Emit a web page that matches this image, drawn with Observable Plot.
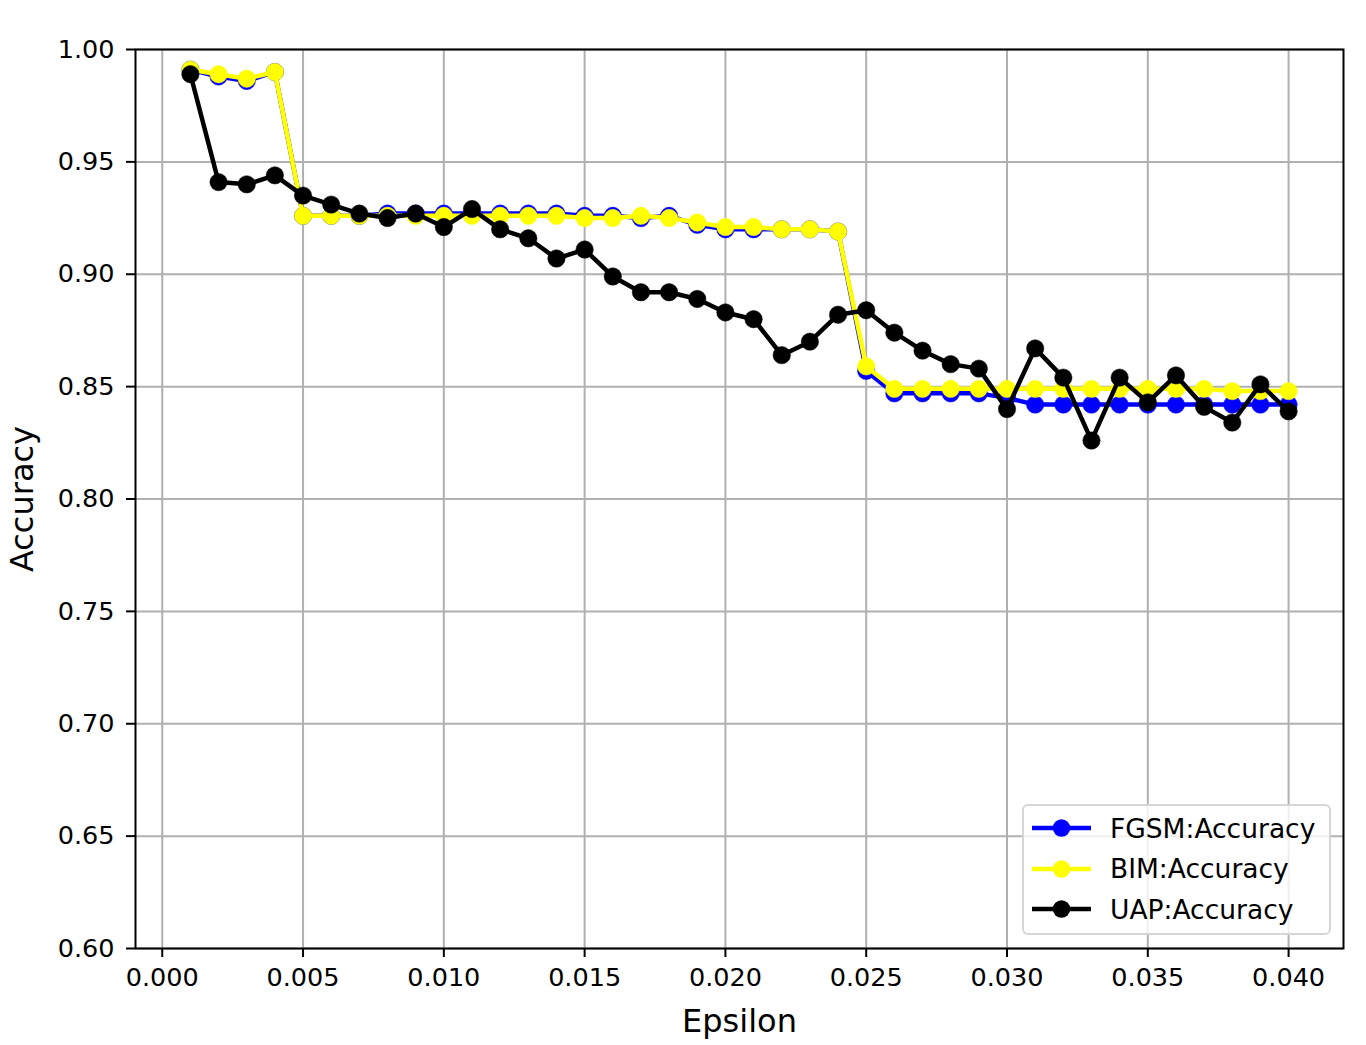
<!DOCTYPE html>
<html>
<head>
<meta charset="utf-8">
<script src="https://cdn.jsdelivr.net/npm/d3@7"></script>
<script src="https://cdn.jsdelivr.net/npm/@observablehq/plot@0.6"></script>
<style>
  html, body { margin: 0; padding: 0; background: #fff; }
  #wrap { position: relative; width: 1366px; height: 1045px; font-family: "DejaVu Sans", sans-serif; }
  #legend { position: absolute; left: 1022px; top: 804px; width: 309px; height: 131px; box-sizing: border-box;
            border: 2px solid rgba(204,204,204,0.8); border-radius: 6px; background: rgba(255,255,255,0.8); }
  .row { position: absolute; left: 8px; height: 40px; display: flex; align-items: center; }
  .row span { font-size: 26.5px; color: #000; margin-left: 18px; white-space: nowrap; }
</style>
</head>
<body>
<div id="wrap"><div id="chart"></div><div id="legend"></div></div>
<script>
// ---- data ----
const epsilon = [0.001,0.002,0.003,0.004,0.005,0.006,0.007,0.008,0.009,0.010,
                 0.011,0.012,0.013,0.014,0.015,0.016,0.017,0.018,0.019,0.020,
                 0.021,0.022,0.023,0.024,0.025,0.026,0.027,0.028,0.029,0.030,
                 0.031,0.032,0.033,0.034,0.035,0.036,0.037,0.038,0.039,0.040];
const fgsmAccuracy = [0.991,0.988,0.986,0.990,0.926,0.926,0.926,0.927,0.927,0.927,
                      0.927,0.927,0.927,0.927,0.926,0.926,0.925,0.926,0.922,0.920,
                      0.920,0.920,0.920,0.919,0.857,0.847,0.847,0.847,0.847,0.845,
                      0.842,0.842,0.842,0.842,0.842,0.842,0.842,0.842,0.842,0.842];
const bimAccuracy  = [0.991,0.989,0.987,0.990,0.926,0.926,0.926,0.926,0.926,0.926,
                      0.926,0.926,0.926,0.926,0.925,0.925,0.926,0.925,0.923,0.921,
                      0.921,0.920,0.920,0.919,0.859,0.849,0.849,0.849,0.849,0.849,
                      0.849,0.849,0.849,0.849,0.849,0.849,0.849,0.848,0.848,0.848];
const uapAccuracy  = [0.989,0.941,0.940,0.944,0.935,0.931,0.927,0.925,0.927,0.921,
                      0.929,0.920,0.916,0.907,0.911,0.899,0.892,0.892,0.889,0.883,
                      0.880,0.864,0.870,0.882,0.884,0.874,0.866,0.860,0.858,0.840,
                      0.867,0.854,0.826,0.854,0.843,0.855,0.841,0.834,0.851,0.839];
const seriesNames  = ["FGSM:Accuracy", "BIM:Accuracy", "UAP:Accuracy"];
const seriesColors = ["#0000ff", "#ffff00", "#000000"];
const seriesValues = [fgsmAccuracy, bimAccuracy, uapAccuracy];
const xTicks = [0.000,0.005,0.010,0.015,0.020,0.025,0.030,0.035,0.040];
const yTicks = [0.60,0.65,0.70,0.75,0.80,0.85,0.90,0.95,1.00];
const xLabel = "Epsilon";
const yLabel = "Accuracy";

// ---- build ----
const series = seriesNames.map((name, k) => ({
  name, color: seriesColors[k],
  rows: epsilon.map((e, i) => ({eps: e, acc: seriesValues[k][i]}))
}));

const dataMarks = [];
for (const s of series) {
  dataMarks.push(Plot.line(s.rows, {x: "eps", y: "acc", stroke: s.color, strokeWidth: 4.5}));
  dataMarks.push(Plot.dot(s.rows, {x: "eps", y: "acc", r: 8.7, fill: s.color, stroke: s.color, strokeWidth: 0.5}));
}

const chart = Plot.plot({
  width: 1366, height: 1045,
  marginLeft: 135, marginRight: 23, marginTop: 49, marginBottom: 97,
  style: {fontFamily: "DejaVu Sans", background: "#fff", color: "#000", overflow: "visible"},
  x: {domain: [-0.00095, 0.04195]},
  y: {domain: [0.6, 1.0]},
  marks: [
    Plot.gridX(xTicks, {stroke: "#b0b0b0", strokeOpacity: 1, strokeWidth: 2}),
    Plot.gridY(yTicks, {stroke: "#b0b0b0", strokeOpacity: 1, strokeWidth: 2}),
    ...dataMarks,
    Plot.frame({stroke: "#000", strokeWidth: 2}),
    Plot.axisX(xTicks, {tickFormat: d3.format(".3f"), tickSize: 9, tickPadding: 10, strokeWidth: 2,
                        fontSize: 25.5, label: null}),
    Plot.axisY(yTicks, {tickFormat: d3.format(".2f"), tickSize: 9, tickPadding: 12, strokeWidth: 2,
                        fontSize: 25.5, label: null}),
    Plot.axisX([], {label: xLabel, labelAnchor: "center", labelArrow: "none", labelOffset: 83, fontSize: 32, tickSize: 0}),
    Plot.axisY([], {label: yLabel, labelAnchor: "center", labelArrow: "none", labelOffset: 125, fontSize: 32, tickSize: 0})
  ]
});
document.getElementById("chart").appendChild(chart);

// ---- legend ----
const legend = document.getElementById("legend");
series.forEach((s, i) => {
  const row = document.createElement("div");
  row.className = "row";
  row.style.top = (22 + i * 40.5 - 20) + "px";
  const svg = d3.create("svg").attr("width", 60).attr("height", 40);
  svg.append("line").attr("x1", 0).attr("x2", 59).attr("y1", 20).attr("y2", 20)
     .attr("stroke", s.color).attr("stroke-width", 4.5);
  svg.append("circle").attr("cx", 29.5).attr("cy", 20).attr("r", 8.7).attr("fill", s.color);
  row.appendChild(svg.node());
  const label = document.createElement("span");
  label.textContent = s.name;
  row.appendChild(label);
  legend.appendChild(row);
});
</script>
</body>
</html>
